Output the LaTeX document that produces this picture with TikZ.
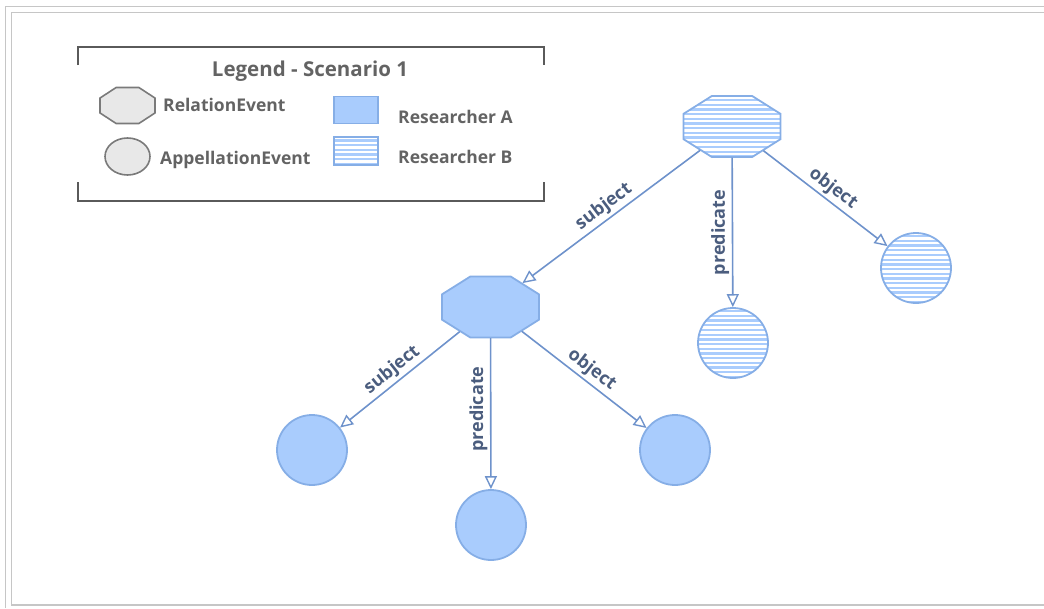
\documentclass[tikz,border=0pt]{standalone}
\usepackage{fontspec}
\setmainfont{Open Sans}
\usetikzlibrary{shapes.geometric,arrows.meta}

\definecolor{nodefill}{HTML}{A9CCFD}
\definecolor{nodeline}{HTML}{86AEE6}
\definecolor{edgeline}{HTML}{6E92CB}
\definecolor{labelcol}{HTML}{4B5D7E}
\definecolor{legtext}{HTML}{636363}
\definecolor{legline}{HTML}{5A5A5A}
\definecolor{greyfill}{HTML}{E8E8E8}
\definecolor{greyline}{HTML}{7A7A7A}
\definecolor{framecol}{HTML}{C6C6C6}

\tikzset{
  % horizontal hatching used for the second researcher
  stripes/.style={fill=white, path picture={
    \foreach \k in {0,...,45}{
      \draw[nodefill, line width=2.3pt]
        ([yshift=\k*#1+1pt]path picture bounding box.south west) --
        ([yshift=\k*#1+1pt]path picture bounding box.south east);}}},
  stripes/.default=4.7pt,
  solidA/.style={fill=nodefill},
  % octagon, squeezed vertically by the enclosing scope
  octo/.style={regular polygon, regular polygon sides=8, draw=nodeline, line width=1.8pt,
    minimum size=105pt, inner sep=0pt, transform shape},
  appel/.style={circle, draw=nodeline, line width=1.8pt, minimum size=70pt, inner sep=0pt},
  rel/.style={draw=edgeline, line width=1.6pt,
    -{Triangle[fill=white, length=13pt, width=12pt, line width=1.4pt]}},
  lbl/.style={text=labelcol, font=\fontsize{18}{18}\selectfont\bfseries, inner sep=2.5pt},
  legtxt/.style={text=legtext, font=\fontsize{17.5}{17.5}\selectfont\bfseries, inner sep=0pt, anchor=west},
  framelin/.style={draw=framecol, line width=1.6pt},
}

\begin{document}
\begin{tikzpicture}[x=1pt, y=-1pt]
\useasboundingbox (0,0) rectangle (1044,608);

% window frame
\coordinate (fa) at (5.5,608);  \coordinate (fb) at (5.5,6.5);  \coordinate (fc) at (1044,6.5);
\coordinate (fd) at (1044,605); \coordinate (fe) at (11.5,605); \coordinate (ff) at (11.5,12.5);
\coordinate (fg) at (1044,12.5);
\draw[framelin] (fa) -- (fb) -- (fc);
\draw[framelin] (fd) -- (fe) -- (ff) -- (fg);

% legend bracket box
\coordinate (l1) at (78,65);  \coordinate (l2) at (78,47);  \coordinate (l3) at (544,47);  \coordinate (l4) at (544,65);
\coordinate (l5) at (78,182); \coordinate (l6) at (78,201); \coordinate (l7) at (544,201); \coordinate (l8) at (544,182);
\draw[legline, line width=1.8pt] (l1) -- (l2) -- (l3) -- (l4);
\draw[legline, line width=1.8pt] (l5) -- (l6) -- (l7) -- (l8);

\node[text=legtext, font=\fontsize{20.5}{20.5}\selectfont\bfseries] (legtitle) at (310,71) {Legend - Scenario 1};

\begin{scope}[shift={(127.5,105.5)}, yscale=0.655]
  \node[regular polygon, regular polygon sides=8, draw=greyline, fill=greyfill, line width=1.6pt,
        minimum size=59.5pt, inner sep=0pt, transform shape] (legrel) at (0,0) {};
\end{scope}
\node[legtxt] (legreltxt) at (163,105) {RelationEvent};
\node[ellipse, draw=greyline, fill=greyfill, line width=1.6pt,
      minimum width=45pt, minimum height=37pt, inner sep=0pt] (legapp) at (127.5,156.5) {};
\node[legtxt] (legapptxt) at (160,160) {AppellationEvent};

\node[rectangle, draw=nodeline, fill=nodefill, line width=1.6pt,
      minimum width=44pt, minimum height=27pt, inner sep=0pt] (legA) at (356,110) {};
\node[legtxt] (legAtxt) at (398,117) {Researcher A};
\node[rectangle, draw=nodeline, stripes, line width=1.6pt,
      minimum width=44pt, minimum height=28pt, inner sep=0pt] (legB) at (356,151) {};
\node[legtxt] (legBtxt) at (398,157) {Researcher B};

% relation events
\begin{scope}[shift={(732,126.5)}, yscale=0.63]
  \node[octo, stripes=7.46pt] (top) at (0,0) {};
\end{scope}
\begin{scope}[shift={(490.5,307)}, yscale=0.63]
  \node[octo, solidA] (mid) at (0,0) {};
\end{scope}

% appellation events
\node[appel, stripes] (tpred) at (733,343) {};
\node[appel, stripes] (tobj) at (916,268) {};
\node[appel, solidA] (msubj) at (312,450) {};
\node[appel, solidA] (mpred) at (491,525) {};
\node[appel, solidA] (mobj) at (675,450) {};

% relations
\draw[rel] (top) -- node[lbl, sloped, above] {subject} (mid);
\draw[rel] (top) -- node[lbl, rotate=90, anchor=south, pos=0.5] {predicate} (tpred);
\draw[rel] (top) -- node[lbl, sloped, above] {object} (tobj);

\draw[rel] (mid) -- node[lbl, sloped, above] {subject} (msubj);
\draw[rel] (mid) -- node[lbl, rotate=90, anchor=south, pos=0.47] {predicate} (mpred);
\draw[rel] (mid) -- node[lbl, sloped, above] {object} (mobj);
\end{tikzpicture}
\end{document}
